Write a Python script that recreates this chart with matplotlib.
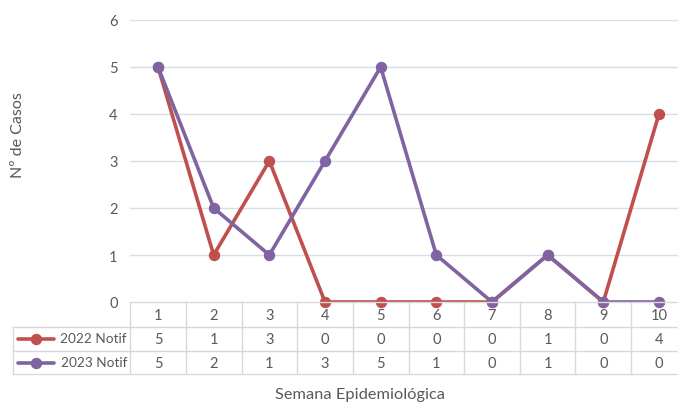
import matplotlib
matplotlib.use("Agg")
import matplotlib.pyplot as plt
from matplotlib.lines import Line2D
import matplotlib.transforms as mtransforms

plt.rcParams['font.family'] = ['Lato', 'DejaVu Sans']

weeks = [1, 2, 3, 4, 5, 6, 7, 8, 9, 10]
notif_2022 = [5, 1, 3, 0, 0, 0, 0, 1, 0, 4]
notif_2023 = [5, 2, 1, 3, 5, 1, 0, 1, 0, 0]
series_names = ["2022 Notif", "2023 Notif"]
y_ticks = [0, 1, 2, 3, 4, 5, 6]

RED = "#C0504D"
PURPLE = "#8064A2"
TXT = "#595959"
GRID = "#D5DFE9"
TBL = "#D9D9D9"

W, H = 678, 406
fig = plt.figure(figsize=(W / 100, H / 100), dpi=100)

def fx(px):
    return px / W

def fy(py):
    return 1 - py / H

left_px, right_px = 130.2, 686.8
top_px, bottom_px = 21.0, 303.0
ax = fig.add_axes([fx(left_px), fy(bottom_px), fx(right_px - left_px), (bottom_px - top_px) / H])
ax.set_xlim(0.5, 10.5)
ax.set_ylim(0, 6)
for s in ax.spines.values():
    s.set_visible(False)
ax.set_xticks([])
ax.set_yticks(y_ticks)
ax.tick_params(axis='y', length=0, pad=9, labelsize=10.5, labelcolor=TXT)
for t in y_ticks[1:]:
    ax.axhline(t, color=GRID, lw=1.0, zorder=0)

series = [(notif_2022, RED), (notif_2023, PURPLE)]
for vals, col in series:
    ax.plot(weeks, vals, color=col, lw=2.6, solid_capstyle='round', solid_joinstyle='round',
            clip_on=True, zorder=3)
    ax.plot(weeks, vals, linestyle='none', marker='o', markersize=7.2, color=col,
            clip_on=False, zorder=4)

fig.text(fx(18), fy(135), "Nº de Casos", rotation=90, ha='center', va='center',
         fontsize=11.5, color=TXT)

# data table
trans = mtransforms.blended_transform_factory(ax.transData, ax.transAxes)
def ay(py):
    return (bottom_px - py) / (bottom_px - top_px)

row_lines = [303.0, 327.5, 351.5, 375.0]
row_centers = [315.5, 339.5, 363.5]
for i, w in enumerate(weeks):
    ax.text(w, ay(row_centers[0]), str(w), transform=trans, ha='center', va='center',
            fontsize=10.5, color=TXT, clip_on=False)
    ax.text(w, ay(row_centers[1]), str(notif_2022[i]), transform=trans,
            ha='center', va='center', fontsize=10.5, color=TXT, clip_on=False)
    ax.text(w, ay(row_centers[2]), str(notif_2023[i]), transform=trans,
            ha='center', va='center', fontsize=10.5, color=TXT, clip_on=False)

# table grid lines
fig.add_artist(Line2D([fx(left_px), 1], [fy(row_lines[0])] * 2, color=TBL, lw=1.0))
for r in row_lines[1:]:
    fig.add_artist(Line2D([fx(13), 1], [fy(r)] * 2, color=TBL, lw=1.0))
fig.add_artist(Line2D([fx(13), fx(13)], [fy(row_lines[1]), fy(row_lines[3])], color=TBL, lw=1.0))
for k in range(len(weeks)):
    xb = k + 0.5
    ax.plot([xb, xb], [ay(row_lines[0]), ay(row_lines[3])], transform=trans, color=TBL,
            lw=1.0, clip_on=False)

# legend keys
for (vals, col), name, rc in zip(series, series_names, row_centers[1:]):
    fig.add_artist(Line2D([fx(18), fx(54)], [fy(rc)] * 2, color=col, lw=2.6,
                          solid_capstyle='round'))
    fig.add_artist(Line2D([fx(36)], [fy(rc)], color=col, marker='o', markersize=7.2,
                          linestyle='none'))
    fig.text(fx(127), fy(rc), name, ha='right', va='center', fontsize=9.8, color=TXT)

fig.text(fx(360), fy(395), "Semana Epidemiológica", ha='center', va='center',
         fontsize=11.8, color=TXT)

fig.savefig("out.png", dpi=100, facecolor='white')
